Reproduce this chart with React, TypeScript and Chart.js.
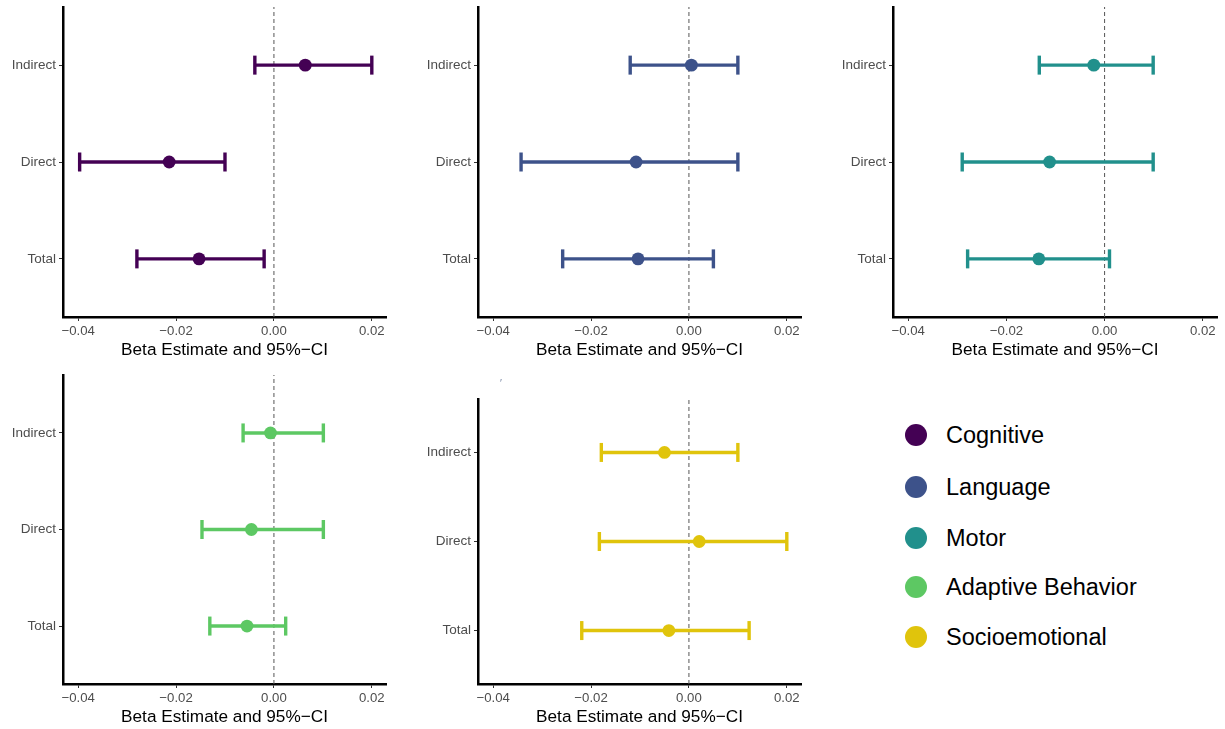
import React, { useEffect, useRef } from "react";
import { Chart, registerables } from "chart.js";

Chart.register(...registerables);

// ---- data ----
const categories = ["Indirect", "Direct", "Total"];
const domains = ["Cognitive", "Language", "Motor", "Adaptive Behavior", "Socioemotional"];
const domainColors = ["#440154", "#3D528A", "#21908C", "#5DC863", "#E0C40C"];

const cognitiveEst = [0.0064, -0.0214, -0.0153];
const cognitiveLow = [-0.0039, -0.0397, -0.028];
const cognitiveHigh = [0.02, -0.01, -0.002];

const languageEst = [0.0005, -0.0108, -0.0104];
const languageLow = [-0.012, -0.0343, -0.0258];
const languageHigh = [0.01, 0.01, 0.005];

const motorEst = [-0.0022, -0.0112, -0.0134];
const motorLow = [-0.0133, -0.029, -0.0279];
const motorHigh = [0.0099, 0.0099, 0.001];

const adaptiveEst = [-0.0007, -0.0046, -0.0055];
const adaptiveLow = [-0.0063, -0.0147, -0.0131];
const adaptiveHigh = [0.0101, 0.0101, 0.0024];

const socioEst = [-0.005, 0.0021, -0.0041];
const socioLow = [-0.0179, -0.0183, -0.0219];
const socioHigh = [0.01, 0.02, 0.0123];

const xTicks = [-0.04, -0.02, 0, 0.02];
const xTickLabels = ["\u22120.04", "\u22120.02", "0.00", "0.02"];
const xMin = -0.0431;
const xMax = 0.0229;
const xTitle = "Beta Estimate and 95%\u2212CI";

const seriesEst = [cognitiveEst, languageEst, motorEst, adaptiveEst, socioEst];
const seriesLow = [cognitiveLow, languageLow, motorLow, adaptiveLow, socioLow];
const seriesHigh = [cognitiveHigh, languageHigh, motorHigh, adaptiveHigh, socioHigh];

// ---- layout (chart area boxes) ----
const panels = [
  { left: 63, right: 386, top: 7, bottom: 317 },
  { left: 478, right: 801, top: 7, bottom: 317 },
  { left: 893, right: 1217, top: 7, bottom: 317 },
  { left: 63, right: 386, top: 375, bottom: 684 },
  { left: 478, right: 801, top: 399, bottom: 684 },
];
const Y_AXIS_W = 63;
const X_AXIS_H = 44;
const PAD_TOP = 16;
const PAD_RIGHT = 16;

const FONT = "Arial, 'Liberation Sans', Helvetica, sans-serif";

function zeroPad(s: any) {
  s.paddingTop = 0;
  s.paddingBottom = 0;
  s.paddingLeft = 0;
  s.paddingRight = 0;
}

function Panel({ idx }: { idx: number }) {
  const ref = useRef<HTMLCanvasElement | null>(null);
  const p = panels[idx];
  const cLeft = p.left - Y_AXIS_W;
  const cTop = p.top - PAD_TOP;
  const w = p.right - cLeft + PAD_RIGHT;
  const h = p.bottom - cTop + X_AXIS_H;

  useEffect(() => {
    if (!ref.current) return;
    const color = domainColors[idx];
    const est = seriesEst[idx];
    const low = seriesLow[idx];
    const high = seriesHigh[idx];
    const yOf = (i: number) => categories.length - i;

    const datasets: any[] = [];
    datasets.push({
      type: "line",
      data: [
        { x: 0, y: 0.4 },
        { x: 0, y: 3.6 },
      ],
      borderColor: "#555555",
      borderWidth: 1,
      borderDash: [4, 3],
      pointRadius: 0,
      order: 10,
    });
    categories.forEach((_, i) => {
      datasets.push({
        type: "line",
        data: [
          { x: low[i], y: yOf(i) },
          { x: high[i], y: yOf(i) },
        ],
        borderColor: color,
        borderWidth: 3.4,
        pointStyle: "line",
        rotation: 90,
        pointRadius: 9.5,
        pointHoverRadius: 9.5,
        pointBorderWidth: 3.4,
        pointBorderColor: color,
        pointBackgroundColor: color,
        order: 5,
      });
    });
    datasets.push({
      type: "scatter",
      data: categories.map((_, i) => ({ x: est[i], y: yOf(i) })),
      backgroundColor: color,
      borderColor: color,
      pointRadius: 6.4,
      pointHoverRadius: 6.4,
      pointBorderWidth: 0,
      order: 1,
    });

    const chart = new Chart(ref.current, {
      type: "scatter",
      data: { datasets },
      options: {
        animation: false,
        responsive: false,
        maintainAspectRatio: false,
        events: [],
        layout: { padding: { top: PAD_TOP, right: PAD_RIGHT, left: 0, bottom: 0 } },
        plugins: { legend: { display: false }, tooltip: { enabled: false } },
        scales: {
          x: {
            type: "linear",
            min: xMin,
            max: xMax,
            afterBuildTicks: (s: any) => {
              s.ticks = xTicks.map((v) => ({ value: v }));
            },
            afterFit: (s: any) => {
              s.height = X_AXIS_H;
              zeroPad(s);
            },
            ticks: {
              callback: (v: any) => {
                const k = xTicks.findIndex((t) => Math.abs(t - Number(v)) < 1e-9);
                return k >= 0 ? xTickLabels[k] : "";
              },
              font: { family: FONT, size: 13.2 },
              color: "#4D4D4D",
              padding: 2,
              maxRotation: 0,
              autoSkip: false,
            },
            grid: {
              display: true,
              drawOnChartArea: false,
              drawTicks: true,
              tickLength: 4,
              color: "#333333",
              lineWidth: 1,
            },
            border: { display: true, color: "#000000", width: 2.5 },
            title: {
              display: true,
              text: xTitle,
              font: { family: FONT, size: 17.2 },
              color: "#000000",
              padding: 0,
            },
          },
          y: {
            type: "linear",
            min: 0.4,
            max: 3.6,
            afterBuildTicks: (s: any) => {
              s.ticks = categories.map((_, i) => ({ value: yOf(i) }));
            },
            afterFit: (s: any) => {
              s.width = Y_AXIS_W;
              zeroPad(s);
            },
            ticks: {
              callback: (v: any) => categories[categories.length - Number(v)] ?? "",
              font: { family: FONT, size: 13.5 },
              color: "#4D4D4D",
              padding: 3,
              autoSkip: false,
            },
            grid: {
              display: true,
              drawOnChartArea: false,
              drawTicks: true,
              tickLength: 4,
              color: "#333333",
              lineWidth: 1,
            },
            border: { display: true, color: "#000000", width: 2.5 },
          },
        },
      },
    });
    return () => chart.destroy();
  }, [idx]);

  return (
    <canvas
      ref={ref}
      width={w}
      height={h}
      style={{ position: "absolute", left: cLeft, top: cTop, width: w, height: h }}
    />
  );
}

const legendY = [435, 487, 538, 587, 637];

export default function App() {
  return (
    <div
      style={{
        position: "absolute",
        left: 0,
        top: 0,
        width: 1225,
        height: 729,
        background: "#ffffff",
        overflow: "hidden",
        fontFamily: FONT,
      }}
    >
      {panels.map((_, i) => (
        <Panel key={i} idx={i} />
      ))}
      <span
        style={{
          position: "absolute",
          left: 500,
          top: 379,
          fontSize: 10,
          color: "#6a7a9a",
          lineHeight: "10px",
        }}
      >
        ′
      </span>
      {domains.map((d, i) => (
        <div key={d}>
          <div
            style={{
              position: "absolute",
              left: 916 - 11,
              top: legendY[i] - 11,
              width: 22,
              height: 22,
              borderRadius: 11,
              background: domainColors[i],
            }}
          />
          <div
            style={{
              position: "absolute",
              left: 946,
              top: legendY[i] - 14,
              height: 28,
              lineHeight: "28px",
              fontSize: 23.5,
              color: "#000000",
              whiteSpace: "nowrap",
            }}
          >
            {d}
          </div>
        </div>
      ))}
    </div>
  );
}
